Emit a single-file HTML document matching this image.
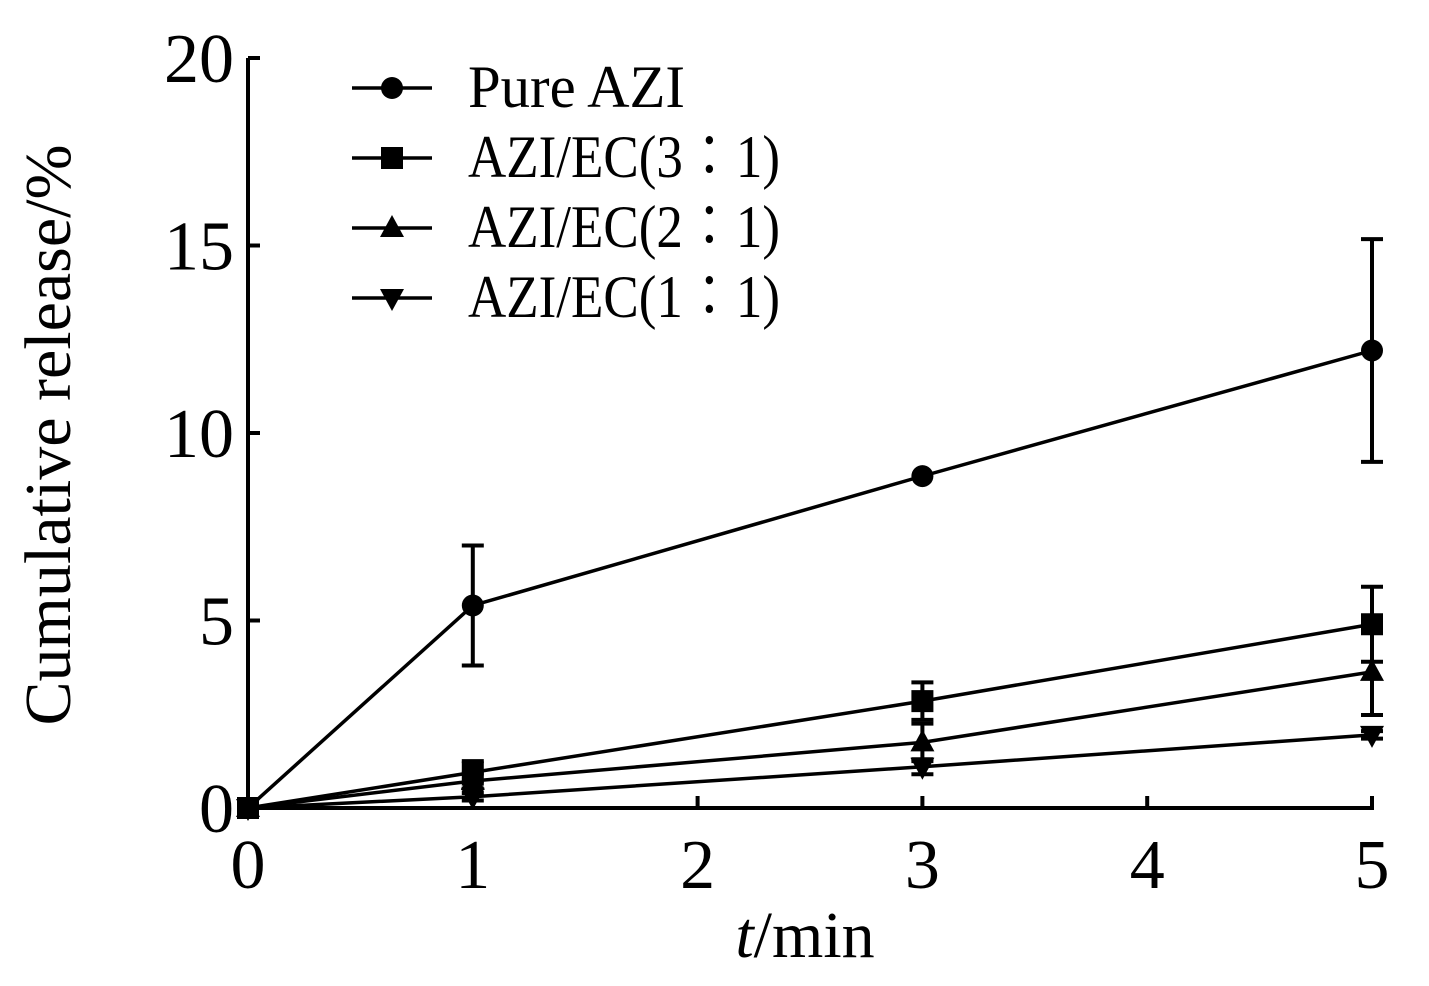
<!DOCTYPE html>
<html><head><meta charset="utf-8"><style>
body{margin:0;background:#fff;}
svg text{font-family:"Liberation Serif","Noto Serif CJK SC",serif;fill:#000;}
</style></head><body>
<svg id="chart" width="1429" height="981"></svg>
<script>
const xVals=[0,1,3,5];
const xTicks=[0,1,2,3,4,5];
const yTicks=[0,5,10,15,20];
const seriesNames=["Pure AZI","AZI/EC(3∶1)","AZI/EC(2∶1)","AZI/EC(1∶1)"];
const pureAZI=[0,5.4,8.85,12.2];
const pureAZIErr=[0,1.6,0,2.97];
const ec31=[0,0.95,2.85,4.9];
const ec31Err=[0,0.3,0.5,1.0];
const ec21=[0,0.72,1.75,3.63];
const ec21Err=[0,0.2,0.5,1.15];
const ec11=[0,0.3,1.1,1.95];
const ec11Err=[0,0.1,0.2,0.1];
const markers=["circle","square","up","down"];

const NS="http://www.w3.org/2000/svg";
const svg=document.getElementById('chart');
const X=v=>248+v*224.8;
const Y=v=>808-v*37.5;
function mk(tag,attrs,parent){const e=document.createElementNS(NS,tag);for(const k in attrs)e.setAttribute(k,attrs[k]);(parent||svg).appendChild(e);return e;}

let e=mk('line',{x1:248,y1:58,x2:248,y2:810,stroke:'#000','stroke-width':4});


e=mk('line',{x1:246,y1:808,x2:1374,y2:808,stroke:'#000','stroke-width':4});


xTicks.forEach(t=>{
  e=mk('line',{x1:X(t),y1:808,x2:X(t),y2:796,stroke:'#000','stroke-width':4});
  
  
  e=mk('text',{x:X(t),y:888,'font-size':70,'text-anchor':'middle'});e.textContent=t;
  
  
});
yTicks.forEach(t=>{
  e=mk('line',{x1:248,y1:Y(t),x2:260,y2:Y(t),stroke:'#000','stroke-width':4});
  
  
  e=mk('text',{x:234,y:Y(t)+24,'font-size':70,'text-anchor':'end'});e.textContent=t;
  
  
});
e=mk('text',{x:805,y:957,'font-size':66,'text-anchor':'middle'});
e.innerHTML='<tspan font-style="italic">t</tspan>/min';


e=mk('text',{x:0,y:0,'font-size':66,'text-anchor':'middle',transform:'translate(70,435) rotate(-90)'});
e.textContent='Cumulative release/%';



function marker(type,x,y,g){
  if(type==='circle')return mk('circle',{cx:x,cy:y,r:11,fill:'#000'},g);
  if(type==='square')return mk('rect',{x:x-11,y:y-11,width:22,height:22,fill:'#000'},g);
  if(type==='up')return mk('polygon',{points:`${x},${y-13} ${x-12},${y+9} ${x+12},${y+9}`,fill:'#000'},g);
  return mk('polygon',{points:`${x},${y+13} ${x-12},${y-9} ${x+12},${y-9}`,fill:'#000'},g);
}
const all=[[pureAZI,pureAZIErr],[ec31,ec31Err],[ec21,ec21Err],[ec11,ec11Err]];
all.forEach((s,i)=>{
  const g=mk('g',{});
  
  
  const [vals,errs]=s;
  let pl=mk('polyline',{points:vals.map((v,j)=>X(xVals[j])+','+Y(v)).join(' '),fill:'none',stroke:'#000','stroke-width':3.5},g);
  
  
  vals.forEach((v,j)=>{
    if(errs[j]>0){
      const x=X(xVals[j]);
      const eb=mk('path',{d:`M${x},${Y(v+errs[j])}V${Y(v-errs[j])}M${x-11},${Y(v+errs[j])}h22M${x-11},${Y(v-errs[j])}h22`,stroke:'#000','stroke-width':4,fill:'none'},g);
      
      
    }
    const m=marker(markers[i],X(xVals[j]),Y(v),g);
    
    
  });
});
seriesNames.forEach((n,i)=>{
  const y=88+i*70;
  const g=mk('g',{});
  
  
  mk('line',{x1:352,y1:y,x2:432,y2:y,stroke:'#000','stroke-width':3.5},g);
  marker(markers[i],392,y,g);
  const t=mk('text',{x:468,y:y+19,'font-size':60,textLength:(i===0?217:312),lengthAdjust:'spacingAndGlyphs'},g);t.textContent=n;
});
</script>
</body></html>
